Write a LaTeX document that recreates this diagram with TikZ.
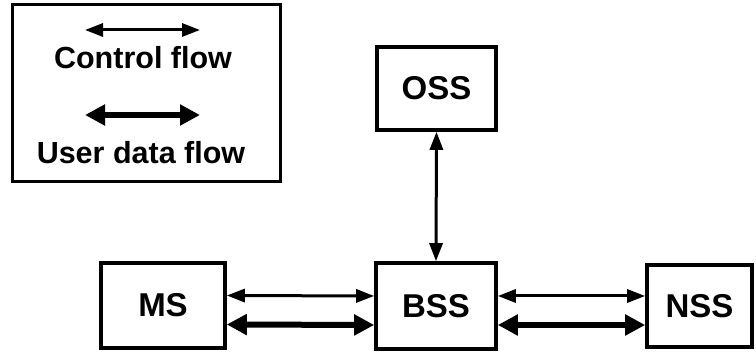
\documentclass[tikz,border=0pt]{standalone}
\usepackage{fontspec}
\setmainfont{Liberation Sans}
\usetikzlibrary{arrows.meta}
\begin{document}
\begin{tikzpicture}[x=1pt,y=1pt,
  box/.style={draw=black, line width=3.6pt, fill=white, inner sep=0pt,
              font=\bfseries\fontsize{33}{38}\selectfont},
  legendbox/.style={draw=black, line width=3pt, inner sep=0pt},
  legendtext/.style={inner sep=0pt, font=\bfseries\fontsize{30.5}{35}\selectfont},
  ctrlflow/.style={line width=3pt,
    {Triangle[length=18pt,width=13pt]}-{Triangle[length=18pt,width=13pt]}},
  dataflow/.style={line width=6pt,
    {Triangle[length=20pt,width=20pt]}-{Triangle[length=20pt,width=20pt]}}
]
\useasboundingbox (0,0) rectangle (756,353);

% legend
\node[legendbox, minimum width=268pt, minimum height=177pt] (legend) at (146,259.5) {};
\coordinate (c1) at (85,323);
\coordinate (c2) at (200,323);
\coordinate (d1) at (85,238);
\coordinate (d2) at (200,238);
\draw[ctrlflow] (c1) -- (c2);
\draw[dataflow] (d1) -- (d2);
\node[legendtext] (ctext) at (143,295) {Control flow};
\node[legendtext] (dtext) at (141,200) {User data flow};

% network subsystems
\node[box, minimum width=119pt, minimum height=83pt] (oss) at (436.5,264.5) {OSS};
\node[box, minimum width=124pt, minimum height=85pt] (ms)  at (163,47.5) {MS};
\node[box, minimum width=120pt, minimum height=86pt] (bss) at (436,47) {BSS};
\node[box, minimum width=105pt, minimum height=82pt] (nss) at (699.5,47) {NSS};

% connections
\draw[ctrlflow] (oss.south) -- (bss.north);
\draw[ctrlflow] ([yshift=10pt]ms.east) -- ([yshift=10pt]bss.west);
\draw[dataflow] ([yshift=-19pt]ms.east) -- ([yshift=-19pt]bss.west);
\draw[ctrlflow] ([yshift=10pt]bss.east) -- ([yshift=10pt]nss.west);
\draw[dataflow] ([yshift=-19pt]bss.east) -- ([yshift=-19pt]nss.west);
\end{tikzpicture}
\end{document}
